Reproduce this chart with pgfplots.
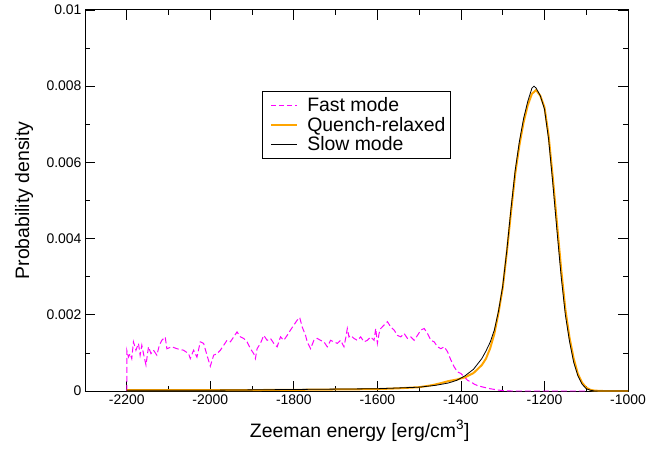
\documentclass[border=0pt]{standalone}
\usepackage{pgfplots}
\pgfplotsset{compat=1.18}
\usepackage{fontspec}
\setmainfont{Liberation Sans}
\definecolor{fastc}{RGB}{255,0,255}
\definecolor{quenchc}{RGB}{255,165,0}
\begin{document}
\begin{tikzpicture}
\begin{axis}[
  scale only axis,
  width=543bp, height=381bp,
  xmin=-2300, xmax=-1000, ymin=0, ymax=0.01,
  scaled y ticks=false, scaled x ticks=false,
  xtick={-2200,-2000,-1800,-1600,-1400,-1200,-1000},
  xticklabels={-2200,-2000,-1800,-1600,-1400,-1200,-1000},
  minor xtick={-2300,-2100,-1900,-1700,-1500,-1300,-1100},
  ytick={0,0.002,0.004,0.006,0.008,0.01},
  yticklabels={0,0.002,0.004,0.006,0.008,0.01},
  minor ytick={0.001,0.003,0.005,0.007,0.009},
  tick align=inside,
  major tick length=10bp, minor tick length=5bp,
  every tick/.style={black, line width=0.8pt},
  axis line style={line width=1pt},
  tick label style={font=\fontsize{14}{16}\selectfont},
  yticklabel style={inner ysep=0pt},
  xlabel={Zeeman energy [erg/cm\textsuperscript{3}]},
  ylabel={Probability density},
  label style={font=\fontsize{19.5}{21}\selectfont},
  xlabel style={at={(axis description cs:0.506,-0.121)}, anchor=base},
  ylabel style={at={(axis description cs:-0.112,0.5)}, anchor=center},
  legend style={at={(axis description cs:0.326,0.787)}, anchor=north west,
    font=\fontsize{19.5}{21}\selectfont, draw=black, line width=0.6pt,
    inner xsep=3bp, inner ysep=4bp, row sep=0bp},
  legend cell align=left,
  legend image code/.code={\draw[#1] (0bp,0bp) (5bp,0bp) -- (31bp,0bp) (38bp,0bp);},
]
\addlegendimage{draw=fastc, line width=1.3pt, dash pattern=on 5bp off 3bp}
\addlegendentry{Fast mode}
\addlegendimage{draw=quenchc, line width=2pt}
\addlegendentry{Quench-relaxed}
\addlegendimage{draw=black, line width=0.9pt}
\addlegendentry{Slow mode}
\addplot[forget plot, draw=fastc, line width=1pt, dash pattern=on 6bp off 3bp] coordinates {
(-2200,0) (-2200,0.00107) (-2196,0.00089) (-2192,0.00098) (-2188,0.00085) (-2184,0.00129)
(-2178,0.00107) (-2172,0.00125) (-2168,0.00094) (-2164,0.00120) (-2160,0.00098) (-2154,0.00068)
(-2148,0.00116) (-2142,0.00098) (-2136,0.00107) (-2128,0.00094) (-2122,0.00120) (-2116,0.00133)
(-2108,0.00142) (-2104,0.00111) (-2092,0.00116) (-2080,0.00111) (-2064,0.00107) (-2052,0.00098)
(-2048,0.00085) (-2040,0.00107) (-2032,0.00089) (-2024,0.00129) (-2016,0.00125) (-2008,0.00094)
(-2000,0.00065) (-1992,0.00094) (-1984,0.00098) (-1976,0.00107) (-1968,0.00120) (-1960,0.00133)
(-1952,0.00129) (-1944,0.00142) (-1936,0.00155) (-1928,0.00142) (-1920,0.00138) (-1912,0.00129)
(-1904,0.00111) (-1896,0.00098) (-1892,0.00085) (-1888,0.00111) (-1880,0.00125) (-1872,0.00146)
(-1864,0.00133) (-1856,0.00138) (-1848,0.00125) (-1840,0.00116) (-1832,0.00142) (-1824,0.00133)
(-1816,0.00146) (-1808,0.00160) (-1800,0.00173) (-1792,0.00186) (-1786,0.00193) (-1780,0.00168)
(-1772,0.00146) (-1768,0.00129) (-1760,0.00111) (-1752,0.00133) (-1744,0.00138) (-1736,0.00133)
(-1728,0.00129) (-1720,0.00116) (-1712,0.00133) (-1704,0.00129) (-1696,0.00125) (-1688,0.00133)
(-1680,0.00116) (-1676,0.00138) (-1672,0.00164) (-1668,0.00142) (-1664,0.00146) (-1656,0.00138)
(-1648,0.00133) (-1640,0.00142) (-1632,0.00129) (-1624,0.00133) (-1616,0.00142) (-1608,0.00133)
(-1604,0.00164) (-1600,0.00125) (-1596,0.00151) (-1592,0.00164) (-1584,0.00173) (-1576,0.00182)
(-1568,0.00168) (-1560,0.00160) (-1552,0.00146) (-1544,0.00142) (-1536,0.00151) (-1528,0.00138)
(-1520,0.00142) (-1512,0.00133) (-1504,0.00146) (-1496,0.00160) (-1488,0.00164) (-1480,0.00151)
(-1472,0.00133) (-1464,0.00129) (-1456,0.00116) (-1448,0.00111) (-1440,0.00116) (-1432,0.00103)
(-1424,0.00081) (-1416,0.00063) (-1408,0.00050) (-1400,0.00046) (-1392,0.00037) (-1384,0.00028)
(-1376,0.00024) (-1368,0.00018) (-1360,0.00014) (-1346,0.00010) (-1330,0.00006) (-1314,0.00003)
(-1300,0.00001) (-1280,0) (-1100,0)
};
\addplot[forget plot, draw=quenchc, line width=2pt] coordinates {
(-2200,0.00002) (-2000,0.00002) (-1800,0.00003) (-1700,0.00004) (-1600,0.00005) (-1550,0.00007)
(-1500,0.00010) (-1470,0.00015) (-1450,0.00020) (-1430,0.00026) (-1410,0.00030) (-1390,0.00036)
(-1370,0.00047) (-1350,0.00068) (-1340,0.00085) (-1330,0.00112) (-1320,0.00150) (-1310,0.00205)
(-1300,0.00270) (-1290,0.00365) (-1280,0.00470) (-1270,0.00570) (-1260,0.00645) (-1250,0.00705)
(-1240,0.00750) (-1230,0.00780) (-1220,0.00790) (-1210,0.00775) (-1200,0.00745) (-1190,0.00670)
(-1180,0.00560) (-1170,0.00440) (-1160,0.00320) (-1150,0.00215) (-1140,0.00140) (-1130,0.00085)
(-1120,0.00045) (-1110,0.00022) (-1100,0.00009) (-1090,0.00003) (-1080,0.00001) (-1060,0) (-1000,0)
};
\addplot[forget plot, draw=black, line width=0.8pt] coordinates {
(-2200,0.00002) (-2100,0.00002) (-2000,0.00002) (-1900,0.00003) (-1800,0.00004) (-1700,0.00005)
(-1600,0.00006) (-1550,0.00008) (-1500,0.00010) (-1460,0.00015) (-1430,0.00021) (-1410,0.00028)
(-1390,0.00040) (-1370,0.00057) (-1350,0.00085) (-1340,0.00105) (-1330,0.00128) (-1320,0.00160)
(-1310,0.00210) (-1300,0.00275) (-1290,0.00370) (-1280,0.00480) (-1270,0.00580) (-1260,0.00655)
(-1250,0.00715) (-1240,0.00760) (-1230,0.00795) (-1225,0.00800) (-1220,0.00795) (-1210,0.00775)
(-1200,0.00740) (-1190,0.00660) (-1180,0.00545) (-1170,0.00420) (-1160,0.00300) (-1150,0.00200)
(-1140,0.00130) (-1130,0.00075) (-1120,0.00040) (-1110,0.00018) (-1100,0.00006) (-1090,0.00002)
(-1080,0) (-1000,0)
};
\end{axis}
\pgfresetboundingbox
\path ([shift={(-85bp,-59bp)}]current axis.south west) rectangle ([shift={(44bp,10bp)}]current axis.north east);
\end{tikzpicture}
\end{document}
